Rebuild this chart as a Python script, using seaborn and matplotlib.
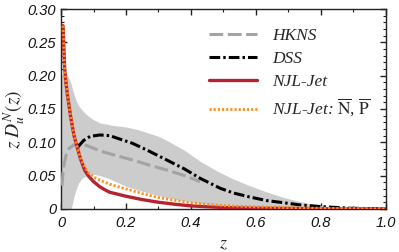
import numpy as np
import pandas as pd
import matplotlib
matplotlib.use("Agg")
import matplotlib.pyplot as plt
import seaborn as sns

# values
njl_z = [0.006, 0.008, 0.011, 0.015, 0.02, 0.03, 0.04, 0.05, 0.06, 0.073, 0.085, 0.1,
         0.12, 0.134, 0.15, 0.2, 0.25, 0.3, 0.35, 0.4, 0.5, 0.6, 0.8, 1.0]
njl_v = [0.275, 0.25, 0.212, 0.19, 0.17, 0.137, 0.11, 0.092, 0.075, 0.058, 0.049, 0.041,
         0.033, 0.029, 0.025, 0.019, 0.014, 0.010, 0.007, 0.0045, 0.002, 0.001, 0.0002, 0.0]

anti_z = [0.006, 0.008, 0.011, 0.015, 0.02, 0.03, 0.04, 0.05, 0.06, 0.073, 0.085, 0.1,
          0.12, 0.15, 0.2, 0.25, 0.3, 0.35, 0.4, 0.5, 0.6, 0.8, 1.0]
anti_v = [0.275, 0.25, 0.212, 0.19, 0.17, 0.137, 0.11, 0.092, 0.076, 0.062, 0.054, 0.048,
          0.043, 0.037, 0.030, 0.023, 0.017, 0.013, 0.009, 0.005, 0.003, 0.001, 0.0]

hkns_z = [0.003, 0.006, 0.01, 0.015, 0.025, 0.04, 0.06, 0.08, 0.12, 0.17, 0.22, 0.27, 0.325, 0.38, 0.428]
hkns_v = [0.035, 0.055, 0.069, 0.08, 0.091, 0.096, 0.097, 0.095, 0.087, 0.080, 0.0735, 0.066, 0.0585, 0.050, 0.041]

dss_z = [0.052, 0.07, 0.09, 0.12, 0.15, 0.18, 0.22, 0.27, 0.325, 0.38, 0.428, 0.49, 0.53,
         0.58, 0.633, 0.69, 0.735, 0.8, 0.89, 1.0]
dss_v = [0.093, 0.103, 0.109, 0.111, 0.110, 0.105, 0.0985, 0.087, 0.0735, 0.060, 0.046, 0.031, 0.024,
         0.018, 0.0125, 0.009, 0.006, 0.0035, 0.001, 0.0]

band_z = [0.0, 0.015, 0.025, 0.031, 0.035, 0.04, 0.047, 0.054, 0.065, 0.08, 0.093, 0.1, 0.12, 0.145,
          0.15, 0.2, 0.237, 0.3, 0.325, 0.38, 0.43, 0.48, 0.53, 0.58, 0.63, 0.68, 0.735, 0.8, 0.85, 0.9, 1.0]
band_lo = [0.0, 0.0, 0.0, 0.0, 0.008, 0.019, 0.030, 0.039, 0.046, 0.050, 0.052, 0.052, 0.050, 0.046,
           0.045, 0.034, 0.028, 0.020, 0.017, 0.012, 0.008, 0.006, 0.004, 0.0025, 0.0015, 0.001, 0.0005, 0.0, 0.0, 0.0, 0.0]
band_hi = [0.2, 0.205, 0.195, 0.188, 0.18, 0.172, 0.162, 0.155, 0.148, 0.141, 0.136, 0.134, 0.129, 0.127,
           0.126, 0.123, 0.119, 0.109, 0.103, 0.088, 0.071, 0.057, 0.045, 0.035, 0.026, 0.018, 0.011, 0.005, 0.002, 0.0, 0.0]

sns.set_style("ticks")
plt.rcParams["mathtext.fontset"] = "stix"

fig = plt.figure(figsize=(3.99, 2.52), dpi=100)
ax = fig.add_axes([0.153, 0.171, 0.814, 0.793])

ax.fill_between(band_z, band_lo, band_hi, color="#cccccc", lw=0, zorder=1)

sns.lineplot(x=hkns_z, y=hkns_v, ax=ax, color="#a3a3a3", lw=2.2,
             linestyle=(0, (4.5, 1.5)), label="HKNS", zorder=3)
sns.lineplot(x=dss_z, y=dss_v, ax=ax, color="black", lw=2.2,
             linestyle=(0, (3.5, 1.0, 0.8, 1.0)), label="DSS", zorder=4)
sns.lineplot(x=njl_z, y=njl_v, ax=ax, color="#b52332", lw=2.4,
             label="NJL-Jet", zorder=5)
sns.lineplot(x=anti_z, y=anti_v, ax=ax, color="#ff8c1a", lw=2.0,
             linestyle=(0, (0.75, 0.75)),
             label=r"NJL-Jet: $\overline{\mathrm{N}}$, $\overline{\mathrm{P}}$", zorder=6)

ax.set_xlim(0, 1.0)
ax.set_ylim(0, 0.30)
ax.set_xticks([0, 0.2, 0.4, 0.6, 0.8, 1.0])
ax.set_xticklabels(["0", "0.2", "0.4", "0.6", "0.8", "1.0"])
ax.set_yticks([0, 0.05, 0.10, 0.15, 0.20, 0.25, 0.30])
ax.set_yticklabels(["0", "0.05", "0.10", "0.15", "0.20", "0.25", "0.30"])
ax.set_xticks(np.arange(0, 1.01, 0.1), minor=True)
ax.set_yticks(np.arange(0, 0.301, 0.01), minor=True)
ax.tick_params(which="both", direction="in", top=True, right=True, color="#222222")
ax.tick_params(which="major", length=4, width=1)
ax.tick_params(which="minor", length=2.5, width=0.8)
ax.tick_params(axis="x", which="major", pad=5)
for lab in ax.get_xticklabels() + ax.get_yticklabels():
    lab.set_fontfamily("Liberation Sans")
    lab.set_fontstyle("italic")
    lab.set_fontsize(10.5)
    lab.set_color("#111111")
for sp in ax.spines.values():
    sp.set_color("#222222")
    sp.set_linewidth(1.0)

ax.set_xlabel(r"$z$", fontsize=13, labelpad=3)
ax.set_ylabel(r"$z\;D_u^N(z)$", fontsize=14)
ax.yaxis.set_label_coords(-0.105, 0.45)

leg = ax.legend(loc="upper right", bbox_to_anchor=(1.0, 0.985), frameon=False,
                handlelength=2.8, handletextpad=0.85, labelspacing=0.4,
                prop={"family": "Liberation Serif", "style": "italic", "size": 12.5})

fig.savefig("out.png", dpi=100)
